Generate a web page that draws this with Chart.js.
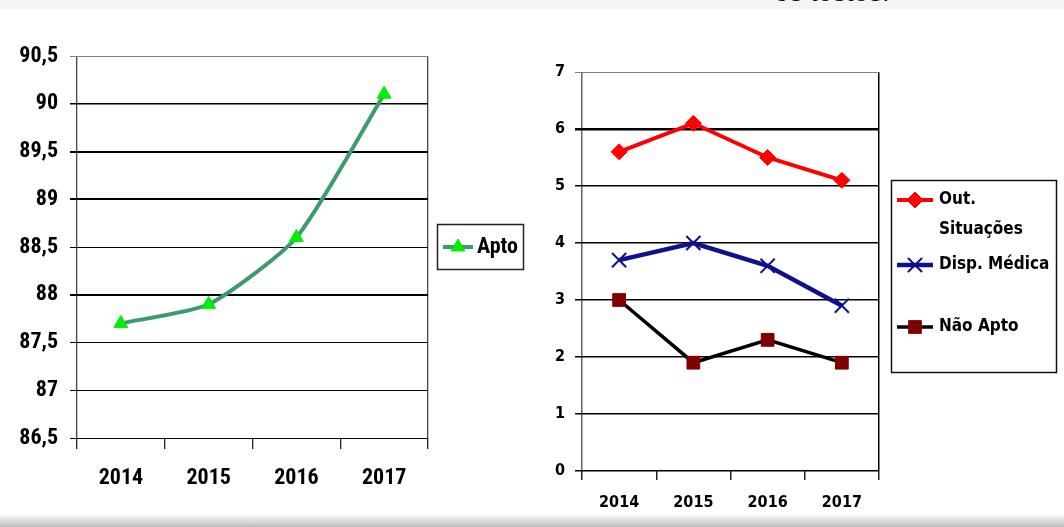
<!DOCTYPE html>
<html lang="pt">
<head>
<meta charset="utf-8">
<title>Apto / Não Apto 2014-2017</title>
<script src="https://cdn.jsdelivr.net/npm/chart.js@4.4.1/dist/chart.umd.min.js"></script>
<style>
  html, body { margin: 0; padding: 0; background: #fff; }
  body { width: 1064px; height: 527px; position: relative; overflow: hidden; }
  .topo { position: absolute; left: 0; top: 0; width: 1064px; height: 9px; background: #f4f4f4; overflow: hidden; }
  .topo span { position: absolute; left: 774px; top: -21px; font: 27px/27px 'Liberation Sans', Arial, sans-serif; color: #111; white-space: nowrap; }
  .fundo { position: absolute; left: 0; top: 514px; width: 1064px; height: 13px; background: linear-gradient(#fff, #bcbcbc); }
  #esq { position: absolute; left: 0; top: 0; }
  #dir { position: absolute; left: 540px; top: 0; }
</style>
</head>
<body>
<div class="topo"><span>os testes.</span></div>
<div class="fundo"></div>
<canvas id="esq" width="540" height="527"></canvas>
<canvas id="dir" width="524" height="527"></canvas>
<script>
// dados
const anos = ['2014', '2015', '2016', '2017'];
const apto = [87.7, 87.9, 88.6, 90.1];
const outSituacoes = [5.6, 6.1, 5.5, 5.1];
const dispMedica = [3.7, 4.0, 3.6, 2.9];
const naoApto = [3.0, 1.9, 2.3, 1.9];
const ticksEsq = [86.5, 87, 87.5, 88, 88.5, 89, 89.5, 90, 90.5];
const ticksDir = [0, 1, 2, 3, 4, 5, 6, 7];

const familiaEsq = "'Roboto Condensed', 'Liberation Sans Narrow', 'Noto Sans Condensed', 'Liberation Sans', sans-serif";
const fonteEsq = { family: familiaEsq, size: 22, weight: 'bold' };
const fonteDir = { family: "'DejaVu Sans Condensed', 'DejaVu Sans', sans-serif", size: 16, weight: 'bold' };

// linhas verticais só nas bordas da área do gráfico
const borda = c => c.type !== 'tick' || c.index === 0;

// legenda com caixa, desenhada como no Excel
const legendaCaixa = {
    id: 'legendaCaixa',
    afterDraw(chart, args, o) {
        const ctx = chart.ctx;
        ctx.save();
        ctx.lineWidth = o.borderWidth;
        ctx.strokeStyle = o.borderColor;
        ctx.strokeRect(o.x + 0.5, o.y + 0.5, o.w, o.h);
        ctx.font = o.font;
        ctx.textBaseline = 'middle';
        ctx.textAlign = 'left';
        chart.data.datasets.forEach((ds, i) => {
            const y = o.rows[i];
            ctx.strokeStyle = ds.borderColor;
            ctx.lineWidth = ds.borderWidth;
            ctx.beginPath();
            ctx.moveTo(o.lineX0, y);
            ctx.lineTo(o.lineX1, y);
            ctx.stroke();

            ctx.fillStyle = ds.pointBackgroundColor;
            ctx.strokeStyle = ds.pointBorderColor;
            ctx.lineWidth = ds.pointBorderWidth;
            Chart.helpers.drawPoint(ctx, {
                pointStyle: ds.pointStyle,
                radius: ds.pointRadius,
                rotation: 0,
                borderWidth: ds.pointBorderWidth
            }, (o.lineX0 + o.lineX1) / 2, y);

            // quebra de linha simples
            const linhas = [];
            let atual = '';
            ds.label.split(' ').forEach(p => {
                const teste = atual ? atual + ' ' + p : p;
                if (atual && ctx.measureText(teste).width > o.maxWidth) {
                    linhas.push(atual);
                    atual = p;
                } else {
                    atual = teste;
                }
            });
            linhas.push(atual);
            ctx.fillStyle = '#000';
            linhas.forEach((t, k) => ctx.fillText(t, o.textX, y + k * o.lineGap));
        });
        ctx.restore();
    }
};

new Chart(document.getElementById('esq'), {
    type: 'line',
    data: {
        labels: anos,
        datasets: [{
            label: 'Apto',
            data: apto,
            borderColor: '#3b9b6d',
            borderWidth: 4,
            tension: 0.2,
            pointStyle: 'triangle',
            pointRadius: 8,
            pointHoverRadius: 8,
            pointBackgroundColor: '#00ee00',
            pointBorderColor: '#00ee00',
            pointBorderWidth: 1
        }]
    },
    options: {
        responsive: false,
        animation: false,
        events: [],
        layout: { padding: { top: 56, right: 112, bottom: 29, left: 0 } },
        plugins: {
            legend: { display: false },
            tooltip: { enabled: false },
            legendaCaixa: {
                x: 437, y: 224, w: 86, h: 45,
                borderColor: '#222', borderWidth: 1.5,
                rows: [247], lineX0: 443, lineX1: 473, textX: 477,
                maxWidth: 200, lineGap: 24,
                font: 'bold 22px ' + familiaEsq
            }
        },
        scales: {
            x: {
                offset: true,
                grid: {
                    offset: true,
                    color: c => borda(c) ? '#444' : 'rgba(0,0,0,0)',
                    lineWidth: 1.3,
                    tickColor: '#222',
                    tickLength: 11
                },
                border: { display: false },
                ticks: { font: fonteEsq, color: '#000', padding: 16 },
                afterFit: s => { s.height = 60; }
            },
            y: {
                min: 86.5,
                max: 90.5,
                afterBuildTicks: s => { s.ticks = ticksEsq.map(v => ({ value: v })); },
                grid: {
                    color: c => c.tick.value === 90.5 ? '#808080' : '#000',
                    lineWidth: c => [88, 89, 89.5].includes(c.tick.value) ? 2 : (c.tick.value === 90 ? 1.5 : 1),
                    tickLength: 7
                },
                border: { display: false },
                ticks: {
                    font: fonteEsq,
                    color: '#000',
                    padding: 12,
                    callback: v => String(v).replace('.', ',')
                },
                afterFit: s => { s.width = 77; }
            }
        }
    },
    plugins: [legendaCaixa]
});

new Chart(document.getElementById('dir'), {
    type: 'line',
    data: {
        labels: anos,
        datasets: [{
            label: 'Out. Situações',
            data: outSituacoes,
            borderColor: '#ff0000',
            borderWidth: 4,
            tension: 0,
            pointStyle: 'rectRot',
            pointRadius: 8,
            pointHoverRadius: 8,
            pointBackgroundColor: '#ff0000',
            pointBorderColor: '#ff0000',
            pointBorderWidth: 1
        }, {
            label: 'Disp. Médica',
            data: dispMedica,
            borderColor: '#10108c',
            borderWidth: 4.5,
            tension: 0,
            pointStyle: 'crossRot',
            pointRadius: 10,
            pointHoverRadius: 10,
            pointBackgroundColor: '#10108c',
            pointBorderColor: '#10108c',
            pointBorderWidth: 2
        }, {
            label: 'Não Apto',
            data: naoApto,
            borderColor: '#000000',
            borderWidth: 3.5,
            tension: 0,
            pointStyle: 'rect',
            pointRadius: 9,
            pointHoverRadius: 9,
            pointBackgroundColor: '#800000',
            pointBorderColor: '#800000',
            pointBorderWidth: 1
        }]
    },
    options: {
        responsive: false,
        animation: false,
        events: [],
        layout: { padding: { top: 72, right: 185, bottom: 16, left: 0 } },
        plugins: {
            legend: { display: false },
            tooltip: { enabled: false },
            legendaCaixa: {
                x: 351, y: 180, w: 165, h: 192,
                borderColor: '#111', borderWidth: 1.5,
                rows: [200, 265, 327], lineX0: 357, lineX1: 393, textX: 399,
                maxWidth: 118, lineGap: 30,
                font: "bold 17px 'DejaVu Sans Condensed', 'DejaVu Sans', sans-serif"
            }
        },
        scales: {
            x: {
                offset: true,
                grid: {
                    offset: true,
                    color: c => c.type !== 'tick' ? '#000' : (c.index === 0 ? '#666' : 'rgba(0,0,0,0)'),
                    lineWidth: 1.5,
                    tickColor: '#222',
                    tickLength: 9
                },
                border: { display: false },
                ticks: { font: fonteDir, color: '#000', padding: 13 },
                afterFit: s => { s.height = 40; }
            },
            y: {
                min: 0,
                max: 7,
                afterBuildTicks: s => { s.ticks = ticksDir.map(v => ({ value: v })); },
                grid: {
                    color: c => c.tick.value === 7 ? '#808080' : '#000',
                    lineWidth: c => c.tick.value === 6 ? 2.5 : (c.tick.value === 7 ? 1 : 1.5),
                    tickLength: 7
                },
                border: { display: false },
                ticks: { font: fonteDir, color: '#000', padding: 10 },
                afterFit: s => { s.width = 42; }
            }
        }
    },
    plugins: [legendaCaixa]
});
</script>
</body>
</html>
